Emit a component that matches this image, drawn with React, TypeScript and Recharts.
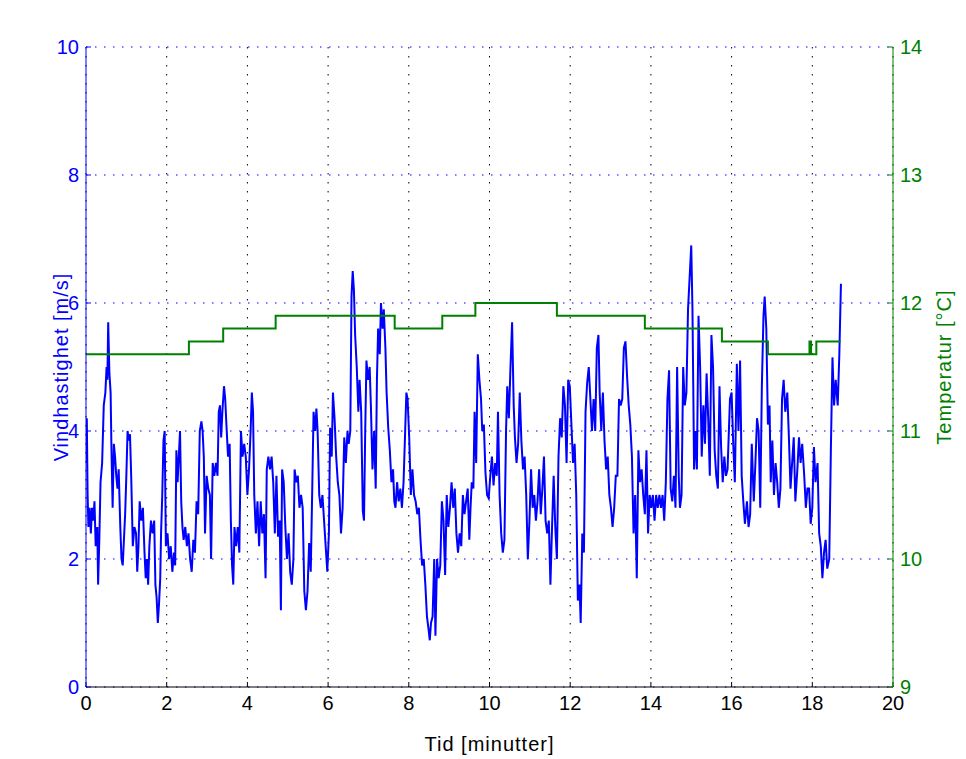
import { LineChart, Line, XAxis, YAxis, CartesianGrid } from "recharts";

const windTime = [
  0.0, 0.02, 0.04, 0.06, 0.09, 0.12, 0.15, 0.18, 0.21, 0.24, 0.28, 0.3, 0.33, 0.36, 0.4, 0.44, 0.48, 0.51, 0.53, 0.55,
  0.58, 0.61, 0.63, 0.66, 0.69, 0.72, 0.75, 0.78, 0.81, 0.85, 0.88, 0.91, 0.94, 0.97, 1.0, 1.03, 1.06, 1.09, 1.12, 1.16,
  1.2, 1.24, 1.27, 1.3, 1.33, 1.37, 1.41, 1.45, 1.48, 1.51, 1.54, 1.57, 1.61, 1.65, 1.69, 1.72, 1.75, 1.78, 1.81, 1.84,
  1.86, 1.89, 1.92, 1.95, 1.98, 2.02, 2.06, 2.1, 2.14, 2.18, 2.21, 2.24, 2.27, 2.3, 2.33, 2.36, 2.39, 2.42, 2.46, 2.5,
  2.54, 2.58, 2.62, 2.66, 2.7, 2.74, 2.78, 2.82, 2.86, 2.89, 2.92, 2.95, 2.99, 3.03, 3.07, 3.1, 3.14, 3.18, 3.22, 3.26,
  3.29, 3.32, 3.35, 3.38, 3.42, 3.45, 3.48, 3.52, 3.56, 3.59, 3.62, 3.65, 3.68, 3.72, 3.76, 3.8, 3.84, 3.88, 3.92, 3.96,
  4.0, 4.04, 4.08, 4.11, 4.14, 4.17, 4.21, 4.25, 4.29, 4.33, 4.37, 4.41, 4.45, 4.48, 4.52, 4.56, 4.6, 4.64, 4.68, 4.72,
  4.76, 4.8, 4.83, 4.86, 4.9, 4.94, 4.98, 5.02, 5.06, 5.1, 5.14, 5.17, 5.21, 5.25, 5.29, 5.33, 5.37, 5.41, 5.45, 5.49,
  5.53, 5.57, 5.61, 5.64, 5.68, 5.71, 5.74, 5.78, 5.82, 5.86, 5.9, 5.94, 5.98, 6.02, 6.05, 6.09, 6.12, 6.16, 6.2, 6.24,
  6.28, 6.32, 6.36, 6.4, 6.44, 6.48, 6.51, 6.55, 6.58, 6.61, 6.64, 6.67, 6.71, 6.75, 6.78, 6.82, 6.86, 6.89, 6.92, 6.95,
  6.99, 7.03, 7.06, 7.1, 7.14, 7.18, 7.21, 7.24, 7.28, 7.31, 7.35, 7.38, 7.42, 7.45, 7.49, 7.53, 7.57, 7.61, 7.64, 7.67,
  7.71, 7.75, 7.79, 7.83, 7.87, 7.91, 7.94, 7.97, 8.01, 8.05, 8.09, 8.13, 8.17, 8.21, 8.25, 8.29, 8.33, 8.37, 8.41, 8.45,
  8.49, 8.52, 8.55, 8.59, 8.63, 8.66, 8.7, 8.74, 8.78, 8.82, 8.86, 8.9, 8.94, 8.98, 9.02, 9.06, 9.1, 9.14, 9.18, 9.22,
  9.26, 9.3, 9.34, 9.38, 9.42, 9.46, 9.5, 9.53, 9.56, 9.6, 9.63, 9.67, 9.71, 9.75, 9.79, 9.82, 9.86, 9.9, 9.94, 9.98,
  10.02, 10.06, 10.1, 10.14, 10.18, 10.21, 10.25, 10.29, 10.33, 10.37, 10.41, 10.44, 10.48, 10.52, 10.56, 10.6, 10.63, 10.67, 10.71, 10.75,
  10.79, 10.83, 10.87, 10.91, 10.95, 10.99, 11.03, 11.07, 11.11, 11.15, 11.19, 11.23, 11.27, 11.31, 11.35, 11.39, 11.43, 11.47, 11.51, 11.55,
  11.59, 11.63, 11.67, 11.71, 11.75, 11.79, 11.83, 11.87, 11.91, 11.95, 11.99, 12.03, 12.07, 12.11, 12.15, 12.19, 12.23, 12.26, 12.3, 12.34,
  12.38, 12.42, 12.46, 12.5, 12.54, 12.58, 12.62, 12.66, 12.7, 12.73, 12.77, 12.81, 12.85, 12.89, 12.93, 12.97, 13.01, 13.05, 13.09, 13.13,
  13.17, 13.21, 13.25, 13.29, 13.33, 13.37, 13.41, 13.45, 13.49, 13.53, 13.57, 13.61, 13.65, 13.69, 13.73, 13.77, 13.81, 13.85, 13.89, 13.93,
  13.97, 14.01, 14.05, 14.09, 14.13, 14.17, 14.21, 14.25, 14.29, 14.33, 14.37, 14.41, 14.45, 14.49, 14.53, 14.57, 14.61, 14.65, 14.69, 14.72,
  14.76, 14.8, 14.84, 14.88, 14.92, 14.96, 15.0, 15.03, 15.05, 15.07, 15.1, 15.14, 15.18, 15.22, 15.26, 15.3, 15.34, 15.38, 15.42, 15.46,
  15.5, 15.54, 15.58, 15.62, 15.66, 15.7, 15.74, 15.78, 15.82, 15.86, 15.9, 15.96, 16.0, 16.04, 16.08, 16.13, 16.17, 16.21, 16.25, 16.29,
  16.33, 16.38, 16.42, 16.46, 16.5, 16.55, 16.59, 16.63, 16.67, 16.71, 16.75, 16.79, 16.82, 16.86, 16.9, 16.94, 16.97, 17.01, 17.05, 17.09,
  17.13, 17.17, 17.21, 17.25, 17.29, 17.33, 17.38, 17.42, 17.46, 17.5, 17.54, 17.58, 17.63, 17.67, 17.71, 17.75, 17.8, 17.84, 17.88, 17.92,
  17.96, 18.0, 18.04, 18.08, 18.13, 18.17, 18.21, 18.25, 18.29, 18.33, 18.37, 18.42, 18.46, 18.5, 18.54, 18.58, 18.63, 18.67, 18.71,
];

const windSpeed = [
  3.5, 4.2, 3.0, 2.5, 2.8, 2.4, 2.8, 2.6, 2.9, 2.2, 2.5, 1.6, 2.3, 3.2, 3.5, 4.4, 4.6, 5.0, 4.8, 5.7,
  4.9, 4.6, 3.75, 2.8, 3.8, 3.6, 3.3, 3.1, 3.4, 2.5, 2.0, 1.9, 2.3, 2.7, 3.3, 4.0, 3.85, 3.95, 3.3, 2.2,
  2.5, 2.4, 1.8, 2.2, 2.9, 2.6, 2.8, 2.1, 1.7, 2.0, 1.6, 2.2, 2.6, 2.4, 2.6, 1.6, 1.4, 1.0, 1.3, 1.7,
  2.4, 3.0, 3.85, 4.0, 2.2, 2.4, 2.0, 2.2, 1.8, 2.1, 1.9, 3.7, 3.2, 3.6, 4.0, 2.9, 2.5, 2.3, 2.5, 2.2,
  2.4, 2.0, 1.8, 2.3, 2.1, 2.9, 2.7, 4.0, 4.15, 4.0, 3.6, 2.4, 3.3, 3.1, 3.0, 2.0, 3.5, 3.3, 3.5, 3.3,
  4.3, 4.4, 3.9, 4.3, 4.7, 4.5, 4.1, 3.6, 3.8, 2.6, 1.9, 1.6, 2.5, 2.2, 2.5, 2.1, 4.0, 3.6, 3.8, 3.6,
  3.0, 3.4, 4.0, 4.6, 4.3, 3.0, 2.4, 2.9, 2.2, 2.9, 2.4, 2.7, 1.7, 3.4, 3.6, 3.4, 3.6, 3.2, 2.4, 3.3,
  2.35, 2.6, 1.2, 3.4, 3.2, 2.5, 2.0, 2.4, 1.8, 1.6, 2.0, 3.4, 3.2, 3.3, 2.8, 3.0, 2.8, 1.5, 1.2, 1.5,
  2.25, 1.8, 3.2, 4.3, 4.0, 4.35, 4.0, 3.0, 2.8, 3.0, 2.6, 2.2, 1.8, 2.4, 4.05, 3.6, 4.6, 4.2, 3.6, 3.2,
  3.0, 2.4, 2.8, 3.9, 3.5, 4.0, 3.8, 4.0, 6.1, 6.5, 6.2, 5.5, 5.0, 4.3, 4.8, 4.3, 2.75, 2.6, 4.0, 5.1,
  4.8, 5.0, 4.4, 3.4, 4.0, 3.1, 4.8, 5.6, 5.2, 6.0, 5.6, 5.9, 5.3, 4.6, 4.05, 3.7, 3.2, 3.4, 2.9, 2.8,
  3.2, 2.9, 3.1, 2.8, 3.2, 4.0, 4.6, 4.5, 3.9, 3.0, 3.4, 3.0, 2.9, 2.7, 2.8, 2.3, 1.9, 2.0, 1.6, 1.1,
  0.9, 0.73, 1.0, 1.1, 2.0, 0.8, 2.0, 1.7, 1.9, 2.9, 2.6, 1.75, 3.0, 2.5, 2.8, 3.2, 2.8, 3.1, 2.4, 2.1,
  2.4, 2.2, 3.0, 2.7, 2.9, 3.1, 2.3, 2.8, 3.2, 3.1, 4.3, 3.5, 5.2, 4.8, 4.5, 4.0, 4.1, 3.35, 3.0, 2.95,
  3.3, 3.6, 3.15, 3.5, 3.3, 4.3, 3.0, 2.4, 2.1, 2.3, 4.0, 4.7, 4.2, 5.0, 5.7, 4.4, 3.9, 3.5, 3.8, 4.6,
  3.85, 3.4, 3.6, 3.0, 2.0, 2.6, 3.4, 2.8, 3.0, 2.6, 2.9, 3.4, 2.7, 3.1, 3.6, 2.6, 2.4, 2.6, 1.6, 2.5,
  3.3, 2.5, 2.0, 3.6, 4.2, 3.9, 4.7, 4.4, 3.5, 4.8, 4.7, 4.1, 3.5, 3.8, 3.0, 1.35, 1.6, 1.0, 2.4, 2.1,
  4.3, 4.75, 5.0, 4.5, 4.0, 4.5, 4.0, 5.3, 5.5, 4.6, 4.0, 4.6, 3.85, 3.4, 3.6, 3.0, 2.8, 2.5, 2.8, 3.3,
  3.3, 4.5, 4.4, 4.5, 5.3, 5.4, 4.85, 4.4, 4.1, 3.6, 2.4, 3.0, 1.7, 3.7, 3.2, 3.4, 3.0, 2.7, 3.7, 2.4,
  3.0, 2.8, 3.0, 2.6, 3.0, 2.8, 3.0, 2.8, 3.0, 2.6, 3.2, 4.5, 4.95, 3.1, 2.9, 3.3, 2.8, 5.0, 3.3, 2.8,
  3.0, 5.0, 4.4, 4.6, 5.9, 6.4, 6.9, 5.9, 4.7, 3.4, 4.0, 3.4, 5.8, 5.0, 3.6, 4.4, 3.8, 4.9, 4.2, 3.3,
  5.5, 5.0, 3.7, 3.3, 3.1, 4.7, 3.75, 3.2, 3.6, 3.3, 3.4, 4.5, 4.6, 3.8, 3.2, 5.05, 4.0, 5.1, 3.3, 2.9,
  2.55, 2.9, 2.5, 2.7, 3.8, 2.9, 3.5, 4.2, 4.0, 2.8, 4.7, 5.8, 6.1, 5.6, 4.1, 4.4, 3.2, 3.85, 3.0, 3.5,
  3.2, 2.8, 3.1, 4.5, 4.8, 4.3, 4.6, 3.9, 3.1, 3.5, 3.9, 2.9, 3.4, 3.9, 3.5, 3.8, 3.3, 2.8, 3.1, 3.1,
  2.55, 2.8, 3.75, 3.2, 3.5, 2.4, 2.2, 1.7, 2.1, 2.3, 1.85, 2.0, 3.7, 5.15, 4.4, 4.8, 4.4, 5.2, 6.3,
];

const tempTime = [0, 2.55, 3.4, 4.7, 7.65, 8.83, 9.65, 11.67, 13.85, 15.76, 16.9, 17.93, 17.97, 18.1, 18.7];
const tempValue = [11.6, 11.7, 11.8, 11.9, 11.8, 11.9, 12.0, 11.9, 11.8, 11.7, 11.6, 11.7, 11.6, 11.7, 11.7];

const xTicks = [0, 2, 4, 6, 8, 10, 12, 14, 16, 18, 20];
const leftTicks = [0, 2, 4, 6, 8, 10];
const rightTicks = [9, 10, 11, 12, 13, 14];

const windData = windTime.map((t, i) => ({ t, v: windSpeed[i] }));
const tempData = tempTime.map((t, i) => ({ t, c: tempValue[i] }));

const font = "'Liberation Sans', Arial, sans-serif";
const BLUE = "#0000ff";
const GREEN = "#008000";
const tickFont = { fontSize: 20, fontFamily: font };
const labelFont = { fontSize: 20, fontFamily: font, letterSpacing: 1 };

export default function App() {
  return (
    <div style={{ position: "absolute", left: 0, top: 0, width: 966, height: 759, background: "#fff", fontFamily: font }}>
      <LineChart width={966} height={759} margin={{ top: 47, right: 13, left: 26, bottom: 12 }}>
        <CartesianGrid horizontal={false} stroke="#000" strokeDasharray="1.5 7.5" yAxisId="left" />
        <CartesianGrid vertical={false} stroke={BLUE} strokeDasharray="1.5 7.5" yAxisId="left" />
        <XAxis
          dataKey="t"
          type="number"
          domain={[0, 20]}
          ticks={xTicks}
          allowDataOverflow
          height={60}
          tickSize={-5}
          tickMargin={14}
          stroke="#000"
          tick={{ fill: "#000", ...tickFont }}
          label={{ value: "Tid [minutter]", position: "insideBottom", offset: -4, fill: "#000", ...labelFont }}
        />
        <XAxis
          xAxisId="top"
          orientation="top"
          dataKey="t"
          type="number"
          domain={[0, 20]}
          ticks={xTicks}
          allowDataOverflow
          height={0}
          tickSize={-5}
          tick={false}
          stroke="#000"
          label={{ value: "Måleserie 1", position: "top", offset: 16, fill: "#000", ...labelFont }}
        />
        <YAxis
          yAxisId="left"
          domain={[0, 10]}
          ticks={leftTicks}
          width={60}
          tickSize={-5}
          tickMargin={12}
          stroke={BLUE}
          tick={{ fill: BLUE, ...tickFont }}
          label={{ value: "Vindhastighet [m/s]", angle: -90, position: "center", dx: 5, fill: BLUE, ...labelFont }}
        />
        <YAxis
          yAxisId="right"
          orientation="right"
          domain={[9, 14]}
          ticks={rightTicks}
          width={60}
          tickSize={-5}
          tickMargin={12}
          stroke={GREEN}
          tick={{ fill: GREEN, ...tickFont }}
          label={{ value: "Temperatur [°C]", angle: -90, position: "center", dx: 21, fill: GREEN, ...labelFont }}
        />
        <Line
          yAxisId="left"
          data={windData}
          dataKey="v"
          type="linear"
          stroke={BLUE}
          strokeWidth={2}
          dot={false}
          isAnimationActive={false}
        />
        <Line
          yAxisId="right"
          data={tempData}
          dataKey="c"
          type="stepAfter"
          stroke={GREEN}
          strokeWidth={2}
          dot={false}
          isAnimationActive={false}
        />
      </LineChart>
    </div>
  );
}
